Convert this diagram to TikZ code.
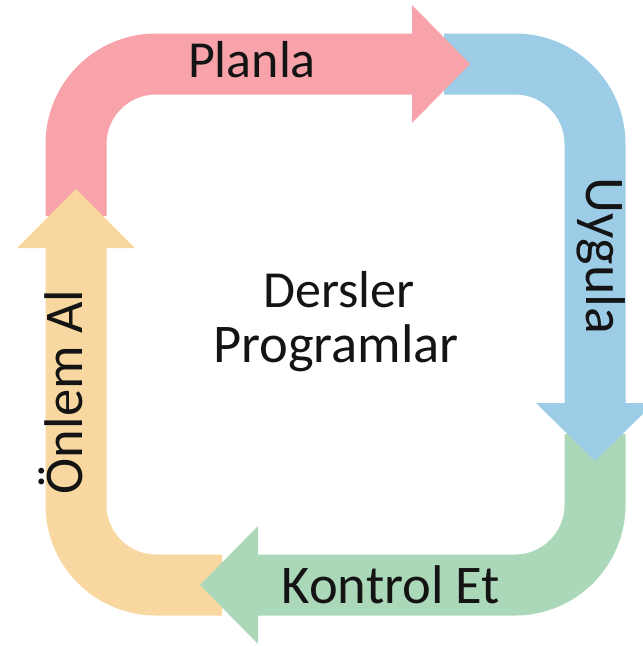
\documentclass[tikz,border=0pt]{standalone}
\usepackage{fontspec}
\setmainfont{Carlito}
\definecolor{pinkc}{RGB}{248,162,170}
\definecolor{bluec}{RGB}{156,204,230}
\definecolor{greenc}{RGB}{172,216,186}
\definecolor{yellowc}{RGB}{248,216,160}
\definecolor{txt}{RGB}{20,20,20}
\tikzset{
  band/.style={line width=61pt, rounded corners=80pt},
  lbl/.style={text=txt, inner sep=0pt, font=\fontsize{52}{56}\selectfont},
  big/.style={font=\fontsize{54.5}{58}\selectfont}
}
\begin{document}
\begin{tikzpicture}[x=1pt,y=-1pt]
\useasboundingbox (0,0) rectangle (643,646);
% bodies
\draw[band, pinkc] (76,216) -- (76,64) -- (416,64);
\draw[band, bluec] (444,64) -- (595,64) -- (595,406);
\draw[band, greenc] (595,434) -- (595,585) -- (256,585);
\draw[band, yellowc] (222,585) -- (76,585) -- (76,246);
% heads
\fill[pinkc] (412,5) -- (470,64) -- (412,123) -- cycle;
\fill[bluec] (536,403) -- (595,461) -- (654,403) -- cycle;
\fill[greenc] (258,526) -- (200,585) -- (258,644) -- cycle;
\fill[yellowc] (17,248) -- (76,189) -- (135,248) -- cycle;
% labels
\node[lbl, anchor=base] (plan) at (252,77) {Planla};
\node[lbl, big, anchor=base, rotate=-90, font=\fontsize{56}{60}\selectfont] (uyg) at (586,256) {Uygula};
\node[lbl, big, anchor=base] (kon) at (391,603) {Kontrol Et};
\node[lbl, big, anchor=base, rotate=90] (onl) at (82,392) {Önlem Al};
\node[lbl, anchor=base] (ders) at (339,307) {Dersler};
\node[lbl, big, anchor=base] (prog) at (336,362) {Programlar};
\end{tikzpicture}
\end{document}
